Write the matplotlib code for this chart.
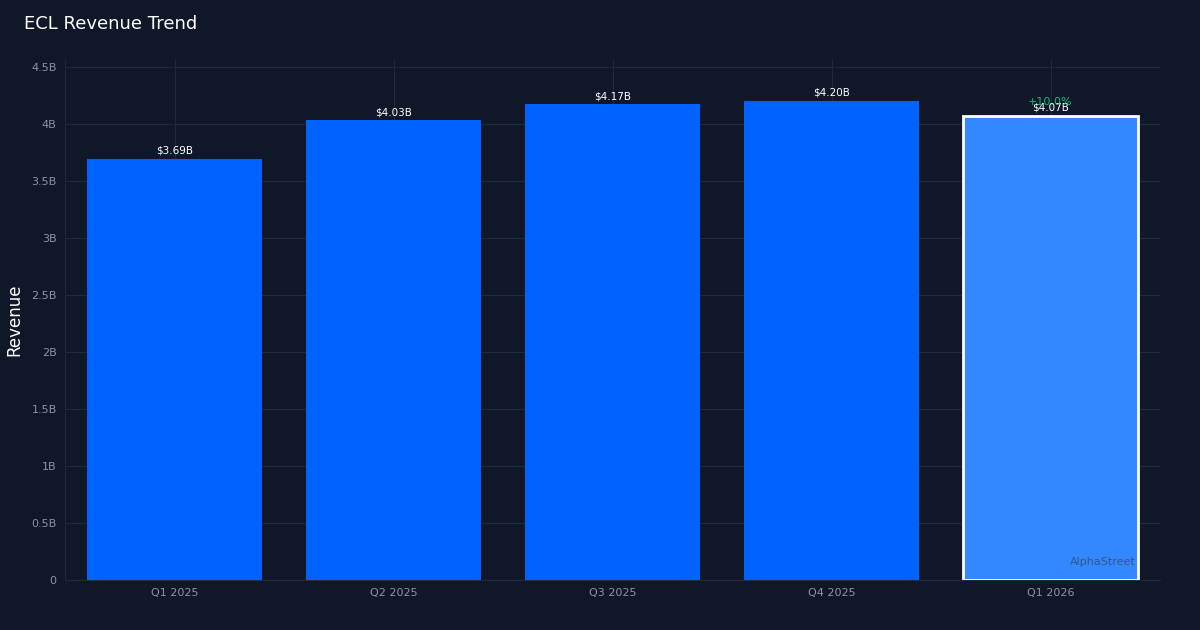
import numpy as np
import matplotlib.pyplot as plt
from matplotlib.ticker import FuncFormatter

quarters = ["Q1 2025", "Q2 2025", "Q3 2025", "Q4 2025", "Q1 2026"]
revenue = [3.69, 4.03, 4.17, 4.20, 4.07]  # $B
labels = ["$3.69B", "$4.03B", "$4.17B", "$4.20B", "$4.07B"]
growth_label = "+10.0%"

bg = "#0f1729"
fig = plt.figure(figsize=(12, 6.3), dpi=100, facecolor=bg)
ax = fig.add_axes([65 / 1200, 50 / 630, 1095 / 1200, 520 / 630], facecolor=bg)

x = np.arange(len(quarters))
colors = ["#0062ff"] * 4 + ["#3388ff"]
bars = ax.bar(x, revenue, width=0.8, color=colors, zorder=3)
bars[-1].set_edgecolor("white")
bars[-1].set_linewidth(2)

for xi, v, lab in zip(x, revenue, labels):
    ax.text(xi, v + 0.03, lab, ha="center", va="bottom", color="white", fontsize=7.5, zorder=4)
ax.text(x[-1], revenue[-1] + 0.08, growth_label, ha="center", va="bottom",
        color="#10b981", fontsize=8, zorder=4)

ax.set_xlim(-0.5, len(quarters) - 0.5)
ax.set_ylim(0, 4.56)
ax.set_yticks(np.arange(0, 4.51, 0.5))
ax.yaxis.set_major_formatter(FuncFormatter(lambda v, p: "0" if v == 0 else f"{v:g}B"))
ax.set_xticks(x)
ax.set_xticklabels(quarters)
ax.tick_params(colors="#8b95a5", labelsize=8, length=0, pad=6)
ax.grid(True, color="#1f2a3c", linewidth=0.8, zorder=0)
for s in ax.spines.values():
    s.set_visible(False)
ax.spines["left"].set_visible(True)
ax.spines["left"].set_color("#1f2a3c")
ax.spines["bottom"].set_visible(True)
ax.spines["bottom"].set_color("#1f2a3c")

ax.set_ylabel("Revenue", color="white", fontsize=12)
ax.yaxis.set_label_coords(-42 / 1095, 0.5)
fig.text(24 / 1200, 1 - 24 / 630, "ECL Revenue Trend", color="white", fontsize=13, va="center")
ax.text(0.978, 0.025, "AlphaStreet", transform=ax.transAxes, ha="right", va="bottom",
        color="#3a4a66", fontsize=8, alpha=0.8, zorder=5)

fig.savefig("out.png", dpi=100, facecolor=bg)
